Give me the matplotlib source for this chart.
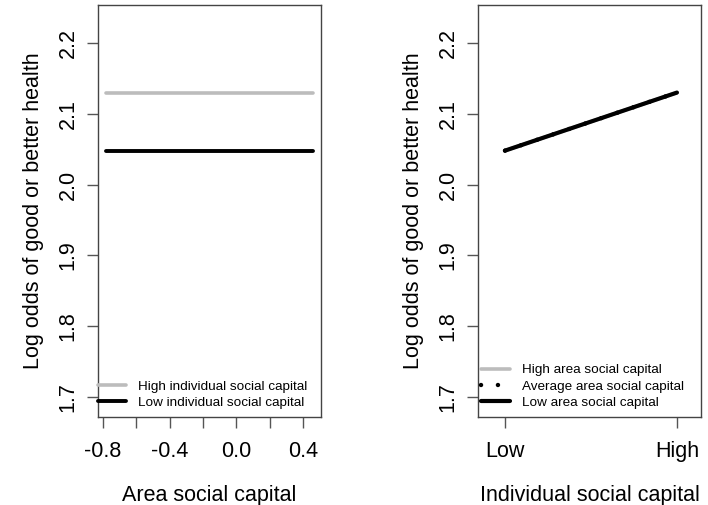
import matplotlib
matplotlib.use("Agg")
import matplotlib.pyplot as plt

plt.rcParams['font.family'] = ['Liberation Sans', 'DejaVu Sans']

# Left panel: predicted log odds across area social capital
area_x = [-0.78, 0.46]
high_indiv = [2.130, 2.130]
low_indiv = [2.048, 2.048]

# Right panel: predicted log odds across individual social capital
indiv_x = [0, 1]
indiv_labels = ['Low', 'High']
high_area = [2.048, 2.130]
avg_area = [2.048, 2.130]
low_area = [2.048, 2.130]

y_ticks = [1.7, 1.8, 1.9, 2.0, 2.1, 2.2]
y_tick_labels = ['1.7', '1.8', '1.9', '2.0', '2.1', '2.2']
area_ticks = [-0.8, -0.6, -0.4, -0.2, 0.0, 0.2, 0.4]
area_tick_labels = ['-0.8', '', '-0.4', '', '0.0', '', '0.4']

ylabel = 'Log odds of good or better health'
GRAY = '#bcbcbc'
FS = 15.5
LFS = 9.7

fig = plt.figure(figsize=(7.08, 5.05), dpi=100)
W, H = 708, 505
ax1 = fig.add_axes([98 / W, 88 / H, 223 / W, 412 / H])
ax2 = fig.add_axes([478 / W, 88 / H, 223 / W, 412 / H])

for ax in (ax1, ax2):
    ax.set_ylim(1.6718, 2.2537)
    ax.set_yticks(y_ticks)
    ax.set_yticklabels(y_tick_labels, rotation=90, va='center')
    ax.tick_params(axis='both', direction='out', length=8, width=1.0,
                   color='#555555', labelsize=FS, labelcolor='black')
    ax.tick_params(axis='y', pad=6)
    ax.tick_params(axis='x', pad=9.5)
    for s in ax.spines.values():
        s.set_color('#444444')
        s.set_linewidth(1.0)
    ax.set_ylabel(ylabel, fontsize=FS, labelpad=10)

# Left panel
ax1.set_xlim(-0.828, 0.506)
ax1.set_xticks(area_ticks)
ax1.set_xticklabels(area_tick_labels)
ax1.plot(area_x, high_indiv, color=GRAY, lw=2.6, solid_capstyle='round',
         label='High individual social capital')
ax1.plot(area_x, low_indiv, color='black', lw=2.8, solid_capstyle='round',
         label='Low individual social capital')
ax1.set_xlabel('Area social capital', fontsize=FS, labelpad=16)
ax1.legend(loc='lower left', bbox_to_anchor=(0.0, 0.02), frameon=False,
           borderpad=0, borderaxespad=0, fontsize=LFS, handlelength=2.1,
           handletextpad=0.9, labelspacing=0.28)

# Right panel
ax2.set_xlim(-0.157, 1.14)
ax2.set_xticks(indiv_x)
ax2.set_xticklabels(indiv_labels)
ax2.plot(indiv_x, high_area, color=GRAY, lw=2.6, solid_capstyle='round',
         label='High area social capital', zorder=2)
ax2.plot(indiv_x, avg_area, color='black', lw=3.2,
         linestyle=(0, (0.01, 3.8)), dash_capstyle='round',
         label='Average area social capital', zorder=2.1)
ax2.plot(indiv_x, low_area, color='black', lw=3.0, solid_capstyle='round',
         label='Low area social capital', zorder=2.2)
ax2.set_xlabel('Individual social capital', fontsize=FS, labelpad=16)
ax2.legend(loc='lower left', bbox_to_anchor=(0.015, 0.02), frameon=False,
           borderpad=0, borderaxespad=0, fontsize=LFS, handlelength=2.1,
           handletextpad=0.9, labelspacing=0.28)

fig.savefig('out.png', dpi=100)
